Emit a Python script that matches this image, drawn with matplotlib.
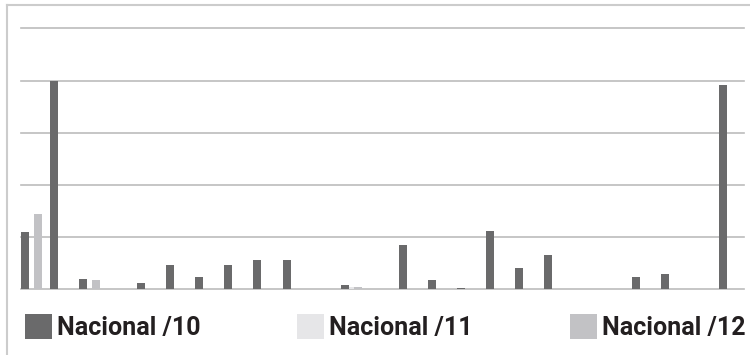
# grouped bars for the three national series, no value axis labels
import numpy as np
import matplotlib.pyplot as plt
from matplotlib.lines import Line2D
from matplotlib.patches import Patch

# data (one value per category, in gridline units)
ncat = 25
nac10 = [1.10, 4.00, 0.20, 0.00, 0.13, 0.47, 0.24, 0.47, 0.57, 0.57,
         0.00, 0.08, 0.00, 0.84, 0.17, 0.03, 1.12, 0.41, 0.66, 0.00,
         0.00, 0.24, 0.30, 0.00, 3.92]
nac11 = [0.00] * ncat
nac11[11] = 0.04
nac12 = [0.00] * ncat
nac12[0] = 1.45
nac12[2] = 0.17
nac12[11] = 0.04

labels = ['Nacional /10', 'Nacional /11', 'Nacional /12']
colors = ['#6a6a6b', '#e6e6e8', '#c2c2c5']

# settings
bw = 0.275
offs = [0.0, 0.275, 0.45]

# -----
xcat = np.arange(ncat)

fig = plt.figure(figsize=(7.5, 3.55), dpi=100)
ax = fig.add_axes([0.0276, 0.185, 0.9644, 0.735])

for ser, off, col in zip([nac10, nac11, nac12], offs, colors):
    ax.bar(xcat + off, ser, width=bw, align='edge', color=col, linewidth=0, zorder=3)

ax.set_xlim(0, 24.86)
ax.set_ylim(0, 5)
ax.set_yticks(range(6))
ax.yaxis.grid(True, color='#bcbcbc', linewidth=1.2)
for gl in ax.get_ygridlines():
    gl.set_clip_on(False)
ax.set_axisbelow(True)
ax.set_xticks([])
ax.tick_params(axis='y', length=0, labelleft=False)
for sp in ax.spines.values():
    sp.set_visible(False)

# outer frame (top and left edges only)
fig.add_artist(Line2D([0.009, 1.0], [0.986, 0.986], color='#cccccc', linewidth=1.5))
fig.add_artist(Line2D([0.009, 0.009], [0.0, 0.986], color='#cccccc', linewidth=1.5))

handles = [Patch(facecolor=c, edgecolor='none') for c in colors]
fs = 18
em = fs * 100 / 72.
fig.legend(handles, labels, loc='center left', bbox_to_anchor=(0.033, 0.08),
           ncol=3, frameon=False, borderpad=0, borderaxespad=0,
           handlelength=27/em, handleheight=29/em, handletextpad=5/em,
           columnspacing=97/em, labelcolor='#231f20',
           prop={'family': 'Roboto', 'weight': 'bold', 'size': fs})

fig.savefig('out.png', dpi=100)
